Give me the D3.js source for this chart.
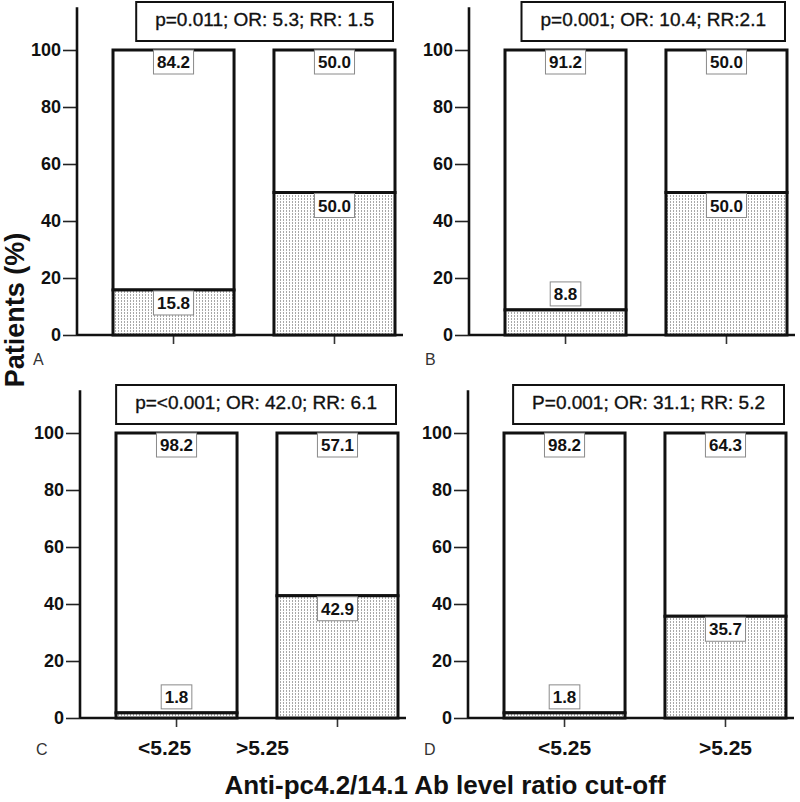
<!DOCTYPE html>
<html>
<head>
<meta charset="utf-8">
<script src="https://cdn.jsdelivr.net/npm/d3@7"></script>
<style>
  body { margin: 0; background: #fff; }
  svg { display: block; font-family: "Liberation Sans", Arial, sans-serif; }
</style>
</head>
<body>
<div id="chart"></div>
<script>
// data
const categories = ["<5.25", ">5.25"];
const panelLetters = ["A", "B", "C", "D"];
const statTitles = [
    "p=0.011; OR: 5.3; RR: 1.5",
    "p=0.001; OR: 10.4; RR:2.1",
    "p=<0.001; OR: 42.0; RR: 6.1",
    "P=0.001; OR: 31.1; RR: 5.2"
];
const lowerPct = [[15.8, 50.0], [8.8, 50.0], [1.8, 42.9], [1.8, 35.7]];
const upperPct = [[84.2, 50.0], [91.2, 50.0], [98.2, 57.1], [98.2, 64.3]];
const yTicks = [0, 20, 40, 60, 80, 100];

const width = 800, height = 802;

const svg = d3.select("#chart").append("svg")
    .attr("width", width)
    .attr("height", height);

// dotted fill for the lower segment
const pat = svg.append("defs").append("pattern")
    .attr("id", "dots")
    .attr("width", 3).attr("height", 3)
    .attr("patternUnits", "userSpaceOnUse");
pat.append("rect").attr("width", 3).attr("height", 3).attr("fill", "#fff");
pat.append("rect").attr("x", 1).attr("width", 1).attr("height", 2).attr("fill", "#a8a8a8");

// panel placement (axis x, zero line y)
const panelPos = [
    {ax: 77, zy: 335, letterDy: 30},
    {ax: 469, zy: 335, letterDy: 30},
    {ax: 80, zy: 718, letterDy: 37},
    {ax: 468, zy: 718, letterDy: 37}
];
// x label shifts (panel C labels are offset in the original)
const xLabelShift = [null, null, [-12, -75], [0, 0]];

panelLetters.forEach((letter, i) => {
    const p = panelPos[i];
    const g = svg.append("g");

    const y = d3.scaleLinear().domain([0, 100]).range([p.zy, p.zy - 285]);
    const x = d3.scaleBand().domain(categories)
        .range([p.ax + 36, p.ax + 318])
        .paddingInner(0.248).paddingOuter(0);

    // y axis
    const yAxis = g.append("g")
        .attr("transform", `translate(${p.ax},0)`)
        .call(d3.axisLeft(y).tickValues(yTicks).tickSize(14).tickPadding(2));
    yAxis.select(".domain").remove();
    yAxis.selectAll(".tick line").attr("stroke", "#222").attr("stroke-width", 1.6);
    yAxis.selectAll(".tick text")
        .attr("font-size", 18).attr("font-weight", "bold").attr("fill", "#111")
        .attr("font-family", "Liberation Sans, Arial, sans-serif");
    g.append("line")
        .attr("x1", p.ax).attr("x2", p.ax)
        .attr("y1", y(115)).attr("y2", p.zy)
        .attr("stroke", "#111").attr("stroke-width", 2.6);

    // x axis baseline and ticks
    g.append("line")
        .attr("x1", p.ax).attr("x2", p.ax + 326)
        .attr("y1", p.zy).attr("y2", p.zy)
        .attr("stroke", "#111").attr("stroke-width", 2.6);
    g.selectAll(".xtick").data(categories).enter().append("line")
        .attr("x1", d => x(d) + x.bandwidth() / 2)
        .attr("x2", d => x(d) + x.bandwidth() / 2)
        .attr("y1", p.zy).attr("y2", p.zy + 9)
        .attr("stroke", "#333").attr("stroke-width", 1.6);

    if (xLabelShift[i]) {
        g.selectAll(".xlab").data(categories).enter().append("text")
            .attr("x", (d, k) => x(d) + x.bandwidth() / 2 + xLabelShift[i][k])
            .attr("y", p.zy + 37)
            .attr("text-anchor", "middle")
            .attr("font-size", 21).attr("font-weight", "bold").attr("fill", "#111")
            .text(d => d);
    }

    // bars
    const rows = categories.map((c, k) => ({cat: c, lo: lowerPct[i][k], hi: upperPct[i][k]}));
    const bars = g.selectAll(".bar").data(rows).enter().append("g");

    bars.append("rect")
        .attr("x", d => x(d.cat)).attr("width", x.bandwidth())
        .attr("y", d => y(d.lo + d.hi)).attr("height", d => y(d.lo) - y(d.lo + d.hi))
        .attr("fill", "#fff").attr("stroke", "#111").attr("stroke-width", 3);
    bars.append("rect")
        .attr("x", d => x(d.cat)).attr("width", x.bandwidth())
        .attr("y", d => y(d.lo)).attr("height", d => y(0) - y(d.lo))
        .attr("fill", "url(#dots)").attr("stroke", "#111").attr("stroke-width", 3);

    // value labels in boxes
    const addLabel = (cx, top, val) => {
        const lg = g.append("g");
        const t = lg.append("text")
            .attr("x", cx).attr("y", top + 18)
            .attr("text-anchor", "middle")
            .attr("font-size", 17).attr("font-weight", "bold").attr("fill", "#111")
            .text(val.toFixed(1));
        const w = t.node().getComputedTextLength() + 7;
        lg.insert("rect", "text")
            .attr("x", cx - w / 2).attr("y", top)
            .attr("width", w).attr("height", 24)
            .attr("fill", "#fff").attr("stroke", "#8a8a8a").attr("stroke-width", 1);
    };
    rows.forEach(d => {
        const cx = x(d.cat) + x.bandwidth() / 2;
        addLabel(cx, y(d.lo + d.hi), d.hi);
        const segH = y(0) - y(d.lo);
        if (segH > 26) addLabel(cx, y(d.lo) + 1, d.lo);
        else addLabel(cx, y(d.lo) - 28, d.lo);
    });

    // stats box
    const tg = g.append("g");
    const tt = tg.append("text")
        .attr("y", y(100) - 24)
        .attr("text-anchor", "middle")
        .attr("font-size", 19).attr("fill", "#111")
        .attr("stroke", "#111").attr("stroke-width", 0.35)
        .text(statTitles[i]);
    const tw = tt.node().getComputedTextLength() + 38;
    const bx = p.ax + 316 - tw;
    tt.attr("x", bx + tw / 2);
    tg.insert("rect", "text")
        .attr("x", bx).attr("y", y(100) - 48)
        .attr("width", tw).attr("height", 39)
        .attr("fill", "#fff").attr("stroke", "#111").attr("stroke-width", 2);

    // panel letter
    g.append("text")
        .attr("x", p.ax - 44).attr("y", p.zy + p.letterDy)
        .attr("font-size", 16).attr("fill", "#333")
        .text(letter);
});

// axis titles
svg.append("text")
    .attr("transform", "translate(24,310) rotate(-90)")
    .attr("text-anchor", "middle")
    .attr("font-size", 27).attr("font-weight", "bold").attr("fill", "#111")
    .text("Patients (%)");

svg.append("text")
    .attr("x", 445).attr("y", 794)
    .attr("text-anchor", "middle")
    .attr("font-size", 26).attr("font-weight", "bold").attr("fill", "#111")
    .text("Anti-pc4.2/14.1 Ab level ratio cut-off");
</script>
</body>
</html>
